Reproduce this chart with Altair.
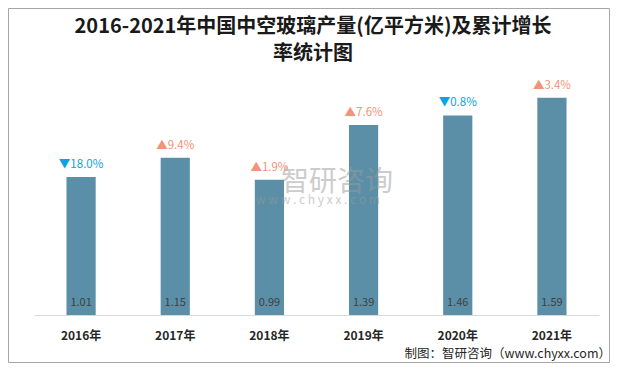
import altair as alt
import pandas as pd

years = ["2016年", "2017年", "2018年", "2019年", "2020年", "2021年"]
output = [1.01, 1.15, 0.99, 1.39, 1.46, 1.59]
growth = [-18.0, 9.4, 1.9, 7.6, -0.8, 3.4]
title_lines = ["2016-2021年中国中空玻璃产量(亿平方米)及累计增长", "率统计图"]
source = "制图：智研咨询（www.chyxx.com）"

df = pd.DataFrame({"year": years, "value": output, "growth": growth})
df["vlabel"] = [f"{v:.2f}" for v in output]
df["glabel"] = [("▼" if g < 0 else "▲") + f"{abs(g):.1f}%" for g in growth]
df["dir"] = ["down" if g < 0 else "up" for g in growth]

W, H = 565, 246
PL, PT, PR, PB = 26, 61, 12, 48
FONT = "Noto Sans CJK SC"

x = alt.X("year:N", sort=years,
          scale=alt.Scale(paddingInner=0.69, paddingOuter=0.345),
          axis=alt.Axis(title=None, labelAngle=0, labelFontSize=12, labelFontWeight="bold",
                        labelColor="#262626", labelFont=FONT, labelPadding=15,
                        ticks=False, domainColor="#d9d9d9", domainWidth=1))
y = alt.Y("value:Q", scale=alt.Scale(domain=[0, 1.8], nice=False), axis=None)

base = alt.Chart(df).encode(x=x)

bars = base.mark_bar(color="#5b8fa7").encode(y=y)

vals = base.mark_text(fontSize=11, color="#404040", font=FONT, baseline="middle").encode(
    y=alt.value(H - 12), text="vlabel:N")

pct = base.mark_text(fontSize=11.5, font=FONT, baseline="bottom", dy=-7).encode(
    y=y, text="glabel:N",
    color=alt.Color("dir:N", scale=alt.Scale(domain=["down", "up"], range=["#0ea2e0", "#f2937a"]),
                    legend=None))

wm = pd.DataFrame({"t": ["智研咨询", "w w w . c h y x x . c o m"],
                   "px": [303, 284], "py": [114, 131], "fs": [28, 12]})
watermark = alt.Chart(wm).mark_text(color="#9a9a9a", opacity=0.5, font=FONT, align="center",
                                    baseline="middle").encode(
    x=alt.X("px:Q", scale=None), y=alt.Y("py:Q", scale=None), text="t:N",
    size=alt.Size("fs:Q", scale=None, legend=None))

border = alt.Chart(pd.DataFrame({"a": [0]})).mark_rect(
    fillOpacity=0, stroke="#a6a6a6", strokeWidth=1).encode(
    x=alt.value(-PL + 0.5), x2=alt.value(W + PR - 0.5 - 1),
    y=alt.value(-PT + 0.5), y2=alt.value(H + PB - 0.5))

src = alt.Chart(pd.DataFrame({"t": [source]})).mark_text(
    align="right", baseline="middle", fontSize=12.5, color="#262626", font=FONT).encode(
    x=alt.value(W + 12), y=alt.value(H + 39), text="t:N")

tdf = pd.DataFrame({"t": title_lines, "ty": [-42, -15]})
title = alt.Chart(tdf).mark_text(
    align="center", baseline="middle", fontSize=20, fontWeight="bold", color="#1a1a1a",
    font=FONT).encode(
    x=alt.value(279), y=alt.Y("ty:Q", scale=None), text="t:N")

chart = alt.layer(border, bars, watermark, vals, pct, src, title).properties(
    width=W, height=H,
    padding={"left": PL, "top": PT, "right": PR, "bottom": PB},
    autosize=alt.AutoSizeParams(type="none"),
).configure_view(stroke=None)

chart.save("out.html", embed_options={"renderer": "svg", "actions": False})
